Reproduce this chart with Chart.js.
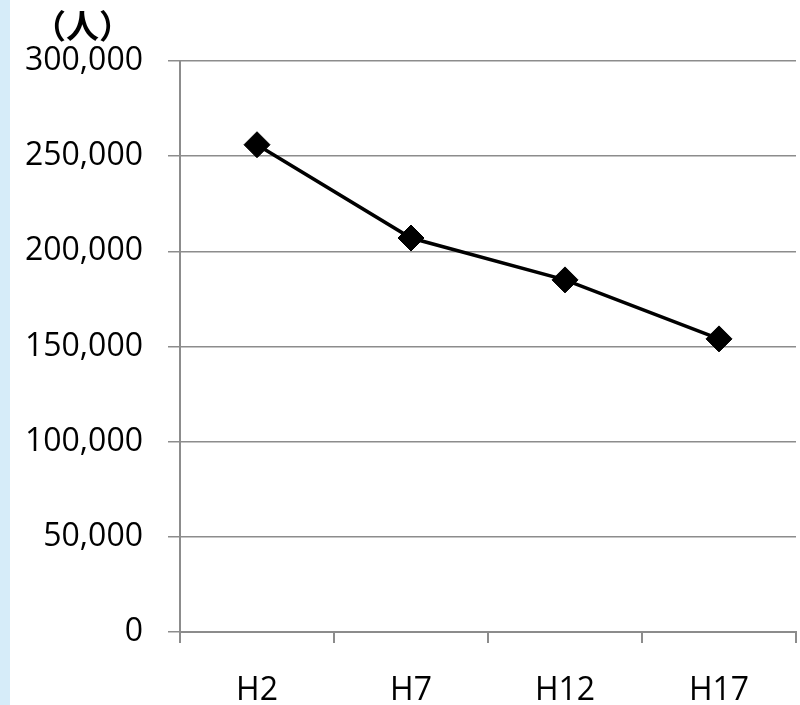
<!DOCTYPE html>
<html>
<head>
<meta charset="utf-8">
<script src="https://cdn.jsdelivr.net/npm/chart.js@4"></script>
<style>
  html, body { margin: 0; padding: 0; background: #ffffff; }
  #wrap { width: 800px; height: 705px; position: relative; }
</style>
</head>
<body>
<div id="wrap"><canvas id="chart" width="800" height="705"></canvas></div>
<script>
// Population by survey year
const years = ['H2', 'H7', 'H12', 'H17'];
const population = [256000, 207000, 185000, 154000];
const yMin = 0;
const yMax = 300000;
const yStep = 50000;
const unitLabel = '（人）';

const axisFont = { family: '"Open Sans", "Liberation Sans", sans-serif', size: 32 };
const gridGrey = '#8c8c8c';

// Light blue strip along the left edge of the page
const edgeStrip = {
  id: 'edgeStrip',
  beforeDraw(chart) {
    const ctx = chart.ctx;
    ctx.save();
    ctx.fillStyle = '#d6ecf9';
    ctx.fillRect(0, 0, 10, chart.height);
    ctx.restore();
  }
};

// Unit caption above the value axis
const unitCaption = {
  id: 'unitCaption',
  afterDraw(chart) {
    const ctx = chart.ctx;
    ctx.save();
    ctx.fillStyle = '#000000';
    ctx.font = 'bold 33px "Noto Sans CJK JP", sans-serif';
    ctx.textAlign = 'left';
    ctx.textBaseline = 'middle';
    ctx.fillText(unitLabel, 33, 25);
    ctx.restore();
  }
};

new Chart(document.getElementById('chart'), {
  type: 'line',
  data: {
    labels: years,
    datasets: [{
      data: population,
      borderColor: '#000000',
      borderWidth: 3.5,
      backgroundColor: '#000000',
      pointStyle: 'rectRot',
      pointRadius: 13,
      pointBackgroundColor: '#000000',
      pointBorderColor: '#000000',
      pointBorderWidth: 1,
      tension: 0,
      fill: false
    }]
  },
  options: {
    responsive: false,
    devicePixelRatio: 1,
    animation: false,
    layout: { autoPadding: false, padding: { top: 61, right: 4, bottom: 0, left: 0 } },
    plugins: {
      legend: { display: false },
      tooltip: { enabled: false },
      title: { display: false }
    },
    scales: {
      x: {
        offset: true,
        grid: {
          offset: true,
          drawOnChartArea: false,
          drawTicks: true,
          tickLength: 11,
          color: gridGrey,
          lineWidth: 2
        },
        border: { display: true, color: gridGrey, width: 2 },
        ticks: { color: '#000000', font: axisFont, padding: 29, maxRotation: 0 },
        afterFit(scale) {
          scale.height = 73;
          scale.paddingLeft = 0;
          scale.paddingRight = 0;
        }
      },
      y: {
        min: yMin,
        max: yMax,
        grid: {
          color: gridGrey,
          lineWidth: 1.5,
          drawTicks: true,
          tickLength: 12
        },
        border: { display: true, color: gridGrey, width: 2 },
        ticks: {
          stepSize: yStep,
          color: '#000000',
          font: axisFont,
          padding: 25,
          callback: (v) => Number(v).toLocaleString('en-US')
        },
        afterFit(scale) { scale.width = 180; }
      }
    }
  },
  plugins: [edgeStrip, unitCaption]
});
</script>
</body>
</html>
